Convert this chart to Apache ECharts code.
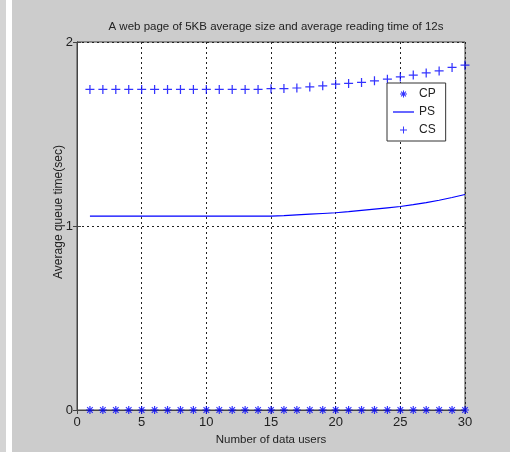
<!DOCTYPE html>
<html>
<head>
<meta charset="utf-8">
<script src="https://cdn.jsdelivr.net/npm/echarts@6/dist/echarts.min.js"></script>
<style>
  html, body { margin: 0; padding: 0; }
  #chart {
    width: 510px; height: 452px;
    background: linear-gradient(to right, #d4d4d4 0 6px, #ffffff 6px 12px, #cccccc 12px);
  }
</style>
</head>
<body>
<div id="chart"></div>
<script>
// Number of data users (x) and average queue time in seconds per scheme
const users = [1,2,3,4,5,6,7,8,9,10,11,12,13,14,15,16,17,18,19,20,21,22,23,24,25,26,27,28,29,30];
const cpTime = [0,0,0,0,0,0,0,0,0,0,0,0,0,0,0,0,0,0,0,0,0,0,0,0,0,0,0,0,0,0];
const psTime = [1.054,1.054,1.054,1.054,1.054,1.054,1.054,1.054,1.054,1.054,1.054,1.054,1.054,1.054,1.054,
                1.056,1.060,1.064,1.068,1.072,1.078,1.085,1.092,1.099,1.106,1.116,1.127,1.140,1.155,1.171];
const csTime = [1.742,1.742,1.742,1.742,1.742,1.742,1.742,1.742,1.742,1.742,1.742,1.742,1.742,1.742,1.746,
                1.747,1.750,1.756,1.762,1.771,1.775,1.780,1.789,1.798,1.810,1.820,1.832,1.843,1.862,1.874];
const chartTitle = 'A web page of 5KB average size and average reading time of 12s';
const xName = 'Number of data users';
const yName = 'Average queue time(sec)';

const pairs = (ys) => users.map((u, i) => [u, ys[i]]);

// marker glyphs: asterisk (+ and x combined), plus, and a plain line for the legend
const ASTERISK = 'path://M3.4,0h1.2v8h-1.2z M0,3.4h8v1.2h-8z M0.8,1.6L1.6,0.8L7.2,6.4L6.4,7.2z M6.4,0.8L7.2,1.6L1.6,7.2L0.8,6.4z';
const PLUS = 'path://M3.45,0h1.1v8h-1.1z M0,3.45h8v1.1h-8z';
const DASH = 'path://M0,0h21v1.2h-21z';

const FONT = '"Liberation Sans", Arial, sans-serif';
const BLUE = '#0000ff';
const INK = '#222222';

const chart = echarts.init(document.getElementById('chart'), null, { renderer: 'canvas' });
chart.setOption({
  backgroundColor: 'transparent',
  animation: false,
  title: {
    text: chartTitle,
    left: 271, top: 16, textAlign: 'center',
    textStyle: { fontFamily: FONT, fontSize: 11.5, fontWeight: 'normal', color: INK }
  },
  legend: {
    orient: 'vertical',
    left: 387, top: 83,
    padding: [4, 10, 4, 6],
    itemGap: 4,
    itemWidth: 21,
    itemHeight: 7,
    backgroundColor: '#ffffff',
    borderColor: '#333333',
    borderWidth: 1,
    borderRadius: 0,
    textStyle: { fontFamily: FONT, fontSize: 12, color: INK, lineHeight: 14 },
    data: [
      { name: 'CP', icon: ASTERISK },
      { name: 'PS', icon: DASH },
      { name: 'CS', icon: PLUS }
    ]
  },
  grid: [{
    left: 77, right: 45, top: 42, bottom: 42,
    show: true, backgroundColor: '#ffffff', borderColor: '#444444', borderWidth: 1
  }],
  xAxis: [{
    type: 'value', min: 0, max: 30, interval: 5,
    name: xName, nameLocation: 'middle', nameGap: 24,
    nameTextStyle: { fontFamily: FONT, fontSize: 11.5, color: INK },
    axisLine: { show: true, onZero: false, lineStyle: { color: '#444444' } },
    axisTick: { show: true, inside: true, length: 4, lineStyle: { color: '#444444' } },
    axisLabel: { fontFamily: FONT, fontSize: 13, color: INK, margin: 6 },
    splitLine: { show: true, lineStyle: { color: '#222222', type: [2, 3], width: 1 } }
  }, {
    type: 'value', min: 0, max: 30, interval: 5, position: 'top',
    axisLine: { show: true, lineStyle: { color: '#444444' } },
    axisTick: { show: true, inside: true, length: 4, lineStyle: { color: '#444444' } },
    axisLabel: { show: false }, splitLine: { show: false }
  }],
  yAxis: [{
    type: 'value', min: 0, max: 2, interval: 1,
    name: yName, nameLocation: 'middle', nameGap: 12, nameRotate: 90,
    nameMoveOverlap: false,
    nameTextStyle: { fontFamily: FONT, fontSize: 12, color: INK, padding: [0, 0, 0, 28] },
    axisLine: { show: true, onZero: false, lineStyle: { color: '#444444' } },
    axisTick: { show: true, inside: true, length: 4, lineStyle: { color: '#444444' } },
    axisLabel: { fontFamily: FONT, fontSize: 13, color: INK, margin: 4 },
    splitLine: { show: true, lineStyle: { color: '#222222', type: [2, 3], width: 1 } }
  }, {
    type: 'value', min: 0, max: 2, interval: 1, position: 'right',
    axisLine: { show: true, lineStyle: { color: '#444444' } },
    axisTick: { show: true, inside: true, length: 4, lineStyle: { color: '#444444' } },
    axisLabel: { show: false }, splitLine: { show: false }
  }],
  series: [
    {
      name: 'CP', type: 'scatter', data: pairs(cpTime),
      symbol: ASTERISK, symbolSize: 8, clip: false,
      itemStyle: { color: BLUE }, z: 5
    },
    {
      name: 'PS', type: 'line', data: pairs(psTime),
      showSymbol: false, symbol: 'none',
      lineStyle: { color: BLUE, width: 1.2 }, itemStyle: { color: BLUE }
    },
    {
      name: 'CS', type: 'scatter', data: pairs(csTime),
      symbol: PLUS, symbolSize: 9, clip: false,
      itemStyle: { color: BLUE }
    }
  ]
});
</script>
</body>
</html>
